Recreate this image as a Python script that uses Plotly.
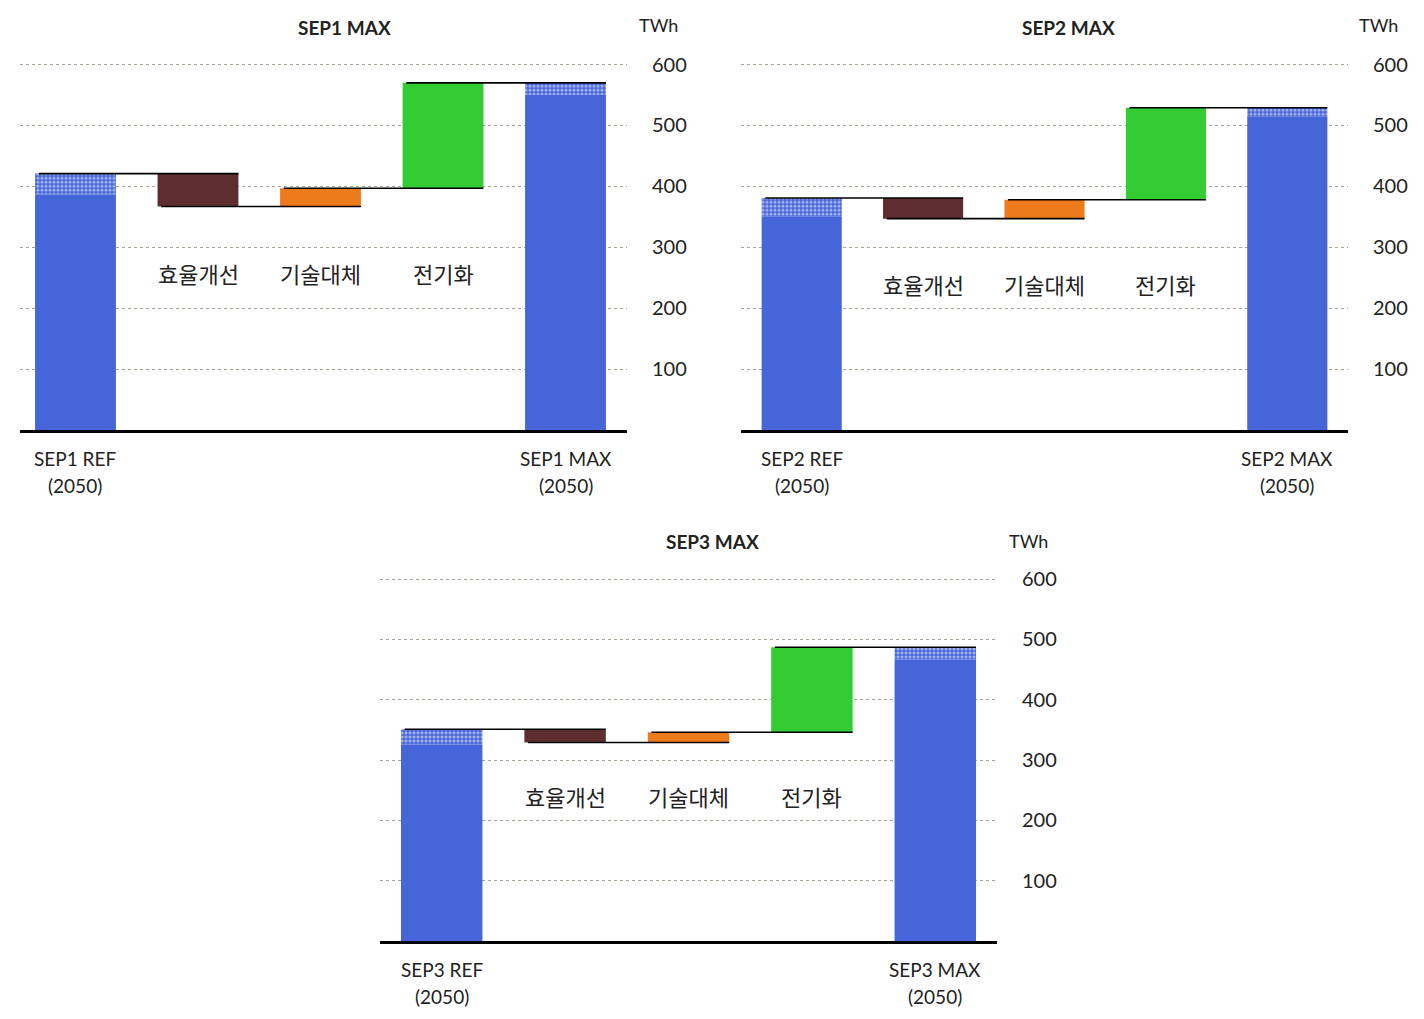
import plotly.graph_objects as go

# TWh
scenarios = ["SEP1", "SEP2", "SEP3"]
ref_total = [421, 381, 351]
ref_dotted = [34, 30, 25]
eff = [-54, -34, -22]
tech = [30, 31, 17]
elec = [173, 151, 141]
max_total = [570, 529, 487]
max_dotted = [20, 14, 21]
steps = ["효율개선", "기술대체", "전기화"]
yticks = [100, 200, 300, 400, 500, 600]

BLUE = "#4565D9"
BROWN = "#5E2D2F"
ORANGE = "#EE7B1B"
GREEN = "#33CC33"
LATIN = "Lato, 'Noto Sans CJK KR', sans-serif"
KOR = "'Noto Sans CJK KR', sans-serif"

# subplot placement (paper fractions; the page sits 8px in from the window edge)
x_domains = [[0.008427, 0.434691], [0.514747, 0.941011], [0.261236, 0.694522]]
y_domains = [[0.585868, 0.968400], [0.585868, 0.968400], [0.084396, 0.463297]]
x_ranges = [[-0.453, 4.502], [-0.5, 4.5], [-0.5, 4.5]]
step_label_y = [258, 240, 240]
title_pos = [(0.236657, 0.981354), (0.745084, 0.981354), (0.495084, 0.475957)]
unit_pos = [(0.456461, 0.983317), (0.962079, 0.983317), (0.716994, 0.476938)]

W = 0.66
fig = go.Figure()
annotations = []
layout = {}

for i, sc in enumerate(scenarios):
    n = "" if i == 0 else str(i + 1)
    xa, ya = "x" + n, "y" + n

    after_eff = ref_total[i] + eff[i]
    after_tech = after_eff + tech[i]

    def bar(x, h, base, color, pattern=None):
        m = dict(color=color, line=dict(width=0))
        if pattern:
            m["pattern"] = dict(shape=".", fgcolor="white", size=4,
                                solidity=0.5, fillmode="overlay")
        fig.add_trace(go.Bar(x=[x], y=[h], base=[base], width=W, marker=m,
                             xaxis=xa, yaxis=ya, showlegend=False,
                             hoverinfo="skip"))

    # REF
    bar(0, ref_total[i] - ref_dotted[i], 0, BLUE)
    bar(0, ref_dotted[i], ref_total[i] - ref_dotted[i], BLUE, True)
    # steps
    bar(1, -eff[i], after_eff, BROWN)
    bar(2, tech[i], after_eff, ORANGE)
    bar(3, elec[i], after_tech, GREEN)
    # MAX
    bar(4, max_total[i] - max_dotted[i], 0, BLUE)
    bar(4, max_dotted[i], max_total[i] - max_dotted[i], BLUE, True)

    # connectors
    levels = [ref_total[i], after_eff, after_tech, max_total[i]]
    for k, lv in enumerate(levels):
        fig.add_trace(go.Scatter(x=[k - 0.3, k + 1.33], y=[lv, lv], mode="lines",
                                 line=dict(color="black", width=1.6),
                                 xaxis=xa, yaxis=ya, showlegend=False,
                                 hoverinfo="skip"))

    layout["xaxis" + n] = dict(domain=x_domains[i], range=x_ranges[i],
                               anchor=ya, showgrid=False, zeroline=False,
                               showticklabels=False, showline=True,
                               linecolor="black", linewidth=3, fixedrange=True)
    layout["yaxis" + n] = dict(domain=y_domains[i], range=[0, 640], anchor=xa,
                               side="right", tickvals=yticks, showgrid=True,
                               gridcolor="#A8A393", griddash="dot", gridwidth=1,
                               zeroline=False, ticks="outside", ticklen=20,
                               tickcolor="rgba(0,0,0,0)",
                               tickfont=dict(family=LATIN, size=20, color="#222"),
                               fixedrange=True)

    # category labels under the axis
    for x, name in [(0, sc + " REF"), (4, sc + " MAX")]:
        for text, shift in [(name, -28), ("(2050)", -55)]:
            annotations.append(dict(x=x, y=0, xref=xa, yref=ya + " domain",
                                    text=text, showarrow=False,
                                    xanchor="center", yanchor="middle",
                                    yshift=shift,
                                    font=dict(family=LATIN, size=19,
                                              color="#222")))
    for k, s in enumerate(steps):
        annotations.append(dict(x=k + 1, y=step_label_y[i], xref=xa, yref=ya,
                                text=s, showarrow=False, xanchor="center",
                                yanchor="middle",
                                font=dict(family=KOR, size=22, color="#222")))

    annotations.append(dict(x=title_pos[i][0], y=title_pos[i][1], xref="paper",
                            yref="paper", text="<b>" + sc + " MAX</b>",
                            showarrow=False, xanchor="center", yanchor="middle",
                            font=dict(family=LATIN, size=19, color="#222")))
    annotations.append(dict(x=unit_pos[i][0], y=unit_pos[i][1], xref="paper",
                            yref="paper", text="TWh", showarrow=False,
                            xanchor="center", yanchor="middle",
                            font=dict(family=LATIN, size=18, color="#222")))

fig.update_layout(**layout)
fig.update_layout(width=1424, height=1019, margin=dict(l=0, r=0, t=0, b=0),
                  barmode="overlay", plot_bgcolor="white", paper_bgcolor="white",
                  annotations=annotations)

fig.write_html("out.html")
